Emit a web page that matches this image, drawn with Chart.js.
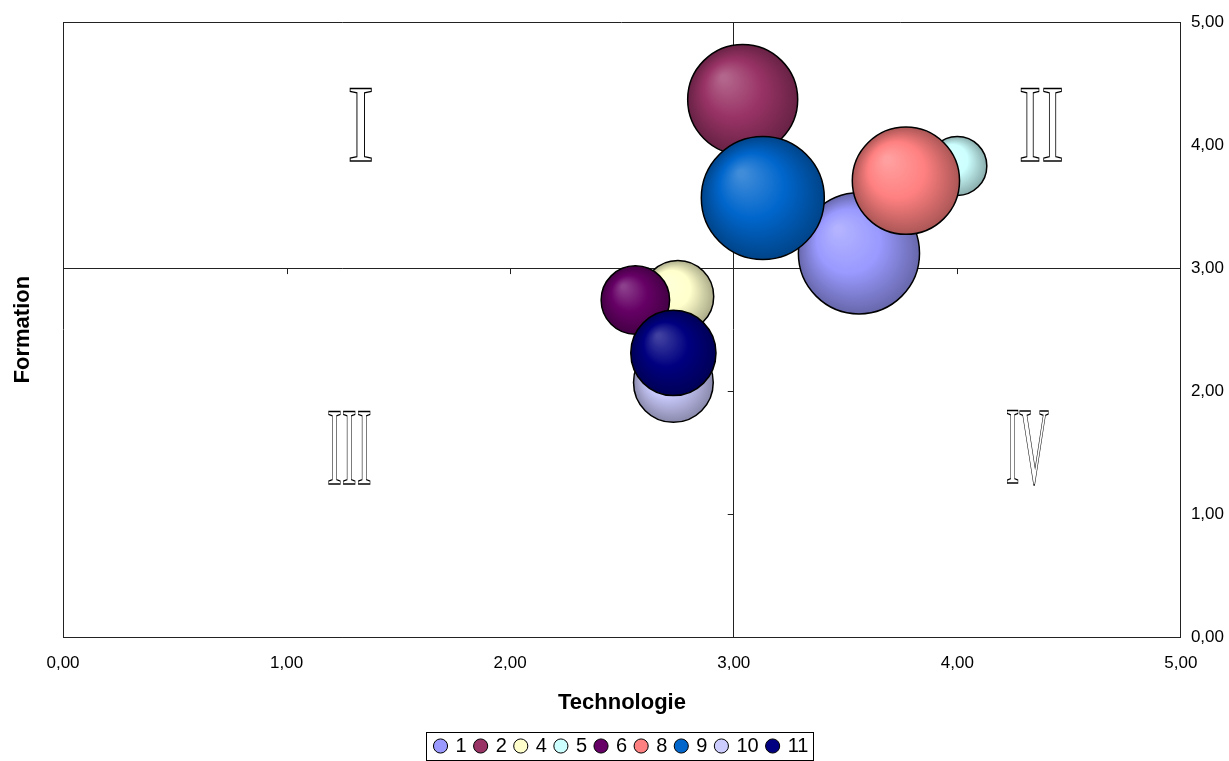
<!DOCTYPE html>
<html>
<head>
<meta charset="utf-8">
<title>Technologie / Formation</title>
<script src="https://cdn.jsdelivr.net/npm/chart.js@4.4.1/dist/chart.umd.min.js"></script>
<style>
    html, body { margin: 0; padding: 0; background: #fff; }
</style>
</head>
<body>
<canvas id="bubbleChart" width="1229" height="761"></canvas>
<script>
// données
const seriesNames = ['1', '2', '4', '5', '6', '8', '9', '10', '11'];
const technologie = [3.56, 3.04, 2.75, 4.00, 2.56, 3.77, 3.13, 2.73, 2.73];
const formation   = [3.12, 4.37, 2.77, 3.83, 2.74, 3.71, 3.57, 2.07, 2.31];
const taille      = [9.7, 8.0, 3.4, 2.3, 3.1, 7.6, 10, 4.2, 4.8];
const couleurs    = ['#9999FF', '#993366', '#FFFFCC', '#CCFFFF', '#660066', '#FF8080', '#0066CC', '#CCCCFF', '#000080'];
const axisTicks   = [0, 1, 2, 3, 4, 5];
const croisement  = 3;
const quadrants   = ['I', 'II', 'III', 'IV'];
const quadrantPos = [[1.33, 4.17], [4.375, 4.17], [1.28, 1.54], [4.315, 1.55]];
const quadrantLargeur = [22, 41, 42, 42];

const RAYON_MAX = 61.5;
const TAILLE_MAX = Math.max(...taille);

Chart.defaults.font.family = "'Liberation Sans', Arial, sans-serif";
Chart.defaults.color = '#000';

function hexToRgb(hex) {
    const n = parseInt(hex.slice(1), 16);
    return [(n >> 16) & 255, (n >> 8) & 255, n & 255];
}

function mix(a, b, t) {
    const ca = hexToRgb(a), cb = hexToRgb(b);
    const c = ca.map((v, i) => Math.round(v + (cb[i] - v) * t));
    return `rgb(${c[0]}, ${c[1]}, ${c[2]})`;
}

// effet de sphère comme dans Excel
function sphere(ctx, base) {
    if (ctx.type !== 'data' || !ctx.raw) return base;
    const xs = ctx.chart.scales.x, ys = ctx.chart.scales.y;
    if (!xs || !ys) return base;
    const cx = xs.getPixelForValue(ctx.raw.x);
    const cy = ys.getPixelForValue(ctx.raw.y);
    const r = ctx.raw.r;
    if (!isFinite(cx) || !isFinite(cy) || !isFinite(r)) return base;
    const g = ctx.chart.ctx.createRadialGradient(cx - r * 0.35, cy - r * 0.4, r * 0.05, cx, cy, r);
    g.addColorStop(0, mix(base, '#ffffff', 0.25));
    g.addColorStop(0.5, base);
    g.addColorStop(1, mix(base, '#000000', 0.33));
    return g;
}

const fmt = v => v.toFixed(2).replace('.', ',');

const datasets = seriesNames.map((name, i) => ({
    label: name,
    data: [{ x: technologie[i], y: formation[i], r: RAYON_MAX * Math.sqrt(taille[i] / TAILLE_MAX) }],
    backgroundColor: ctx => sphere(ctx, couleurs[i]),
    borderColor: '#000',
    borderWidth: 1.5,
    order: seriesNames.length - i
}));

const lineColor = '#222';

const repere = {
    id: 'repere',
    beforeDatasetsDraw(chart) {
        const ctx = chart.ctx;
        const xs = chart.scales.x, ys = chart.scales.y;
        const x0 = xs.getPixelForValue(croisement);
        const y0 = ys.getPixelForValue(croisement);
        ctx.save();
        ctx.strokeStyle = lineColor;
        ctx.lineWidth = 1;
        ctx.beginPath();
        axisTicks.slice(1, -1).forEach(v => {
            if (v === croisement) return;
            const px = Math.round(xs.getPixelForValue(v)) + 0.5;
            ctx.moveTo(px, y0);
            ctx.lineTo(px, y0 + 6);
            const py = Math.round(ys.getPixelForValue(v)) + 0.5;
            ctx.moveTo(x0, py);
            ctx.lineTo(x0 - 6, py);
        });
        ctx.stroke();

        // chiffres romains en contour
        ctx.font = "110px 'Liberation Serif', 'DejaVu Serif', serif";
        ctx.textBaseline = 'alphabetic';
        ctx.textAlign = 'left';
        ctx.lineWidth = 1.3;
        ctx.strokeStyle = '#000';
        ctx.fillStyle = '#fff';
        quadrants.forEach((txt, i) => {
            const m = ctx.measureText(txt);
            const ink = m.actualBoundingBoxLeft + m.actualBoundingBoxRight;
            const asc = m.actualBoundingBoxAscent;
            const sx = quadrantLargeur[i] / ink;
            const cx = xs.getPixelForValue(quadrantPos[i][0]);
            const cy = ys.getPixelForValue(quadrantPos[i][1]);
            ctx.save();
            ctx.translate(cx, cy + asc / 2);
            ctx.scale(sx, 1);
            const left = -ink / 2 + m.actualBoundingBoxLeft;
            ctx.fillText(txt, left, 0);
            ctx.strokeText(txt, left, 0);
            ctx.restore();
        });
        ctx.restore();
    },
    afterDraw(chart) {
        const ctx = chart.ctx;
        const area = chart.chartArea;
        ctx.save();
        // titre vertical
        ctx.font = "bold 22px 'Liberation Sans', Arial, sans-serif";
        ctx.fillStyle = '#000';
        ctx.textAlign = 'center';
        ctx.textBaseline = 'middle';
        ctx.translate(23, (area.top + area.bottom) / 2);
        ctx.rotate(-Math.PI / 2);
        ctx.fillText('Formation', 0, 0);
        ctx.restore();

        // cadre de la légende
        const boxes = chart.legend.legendHitBoxes;
        if (boxes && boxes.length) {
            const left = Math.min(...boxes.map(b => b.left)) - 10;
            const right = Math.max(...boxes.map(b => b.left + b.width)) + 4;
            const top = Math.min(...boxes.map(b => b.top)) - 4;
            const bottom = Math.max(...boxes.map(b => b.top + b.height)) + 4;
            ctx.save();
            ctx.strokeStyle = '#000';
            ctx.lineWidth = 1;
            ctx.strokeRect(Math.round(left) + 0.5, Math.round(top) + 0.5, Math.round(right - left), Math.round(bottom - top));
            ctx.restore();
        }
    }
};

const gridColor = (ctx) => {
    const v = ctx.tick ? ctx.tick.value : null;
    return (v === croisement || v === axisTicks[0] || v === axisTicks[axisTicks.length - 1]) ? lineColor : 'rgba(0,0,0,0)';
};

new Chart(document.getElementById('bubbleChart'), {
    type: 'bubble',
    data: { datasets: datasets },
    options: {
        responsive: false,
        animation: false,
        events: [],
        layout: { autoPadding: false, padding: { left: 63, top: 22, right: -5, bottom: -5 } },
        scales: {
            x: {
                type: 'linear',
                position: 'bottom',
                min: 0,
                max: 5,
                afterBuildTicks: s => { s.ticks = axisTicks.map(v => ({ value: v })); },
                ticks: { callback: fmt, font: { size: 17 }, color: '#000', padding: 16, maxRotation: 0 },
                grid: { color: gridColor, lineWidth: 1, drawTicks: false },
                border: { display: true, color: lineColor, width: 1 },
                title: {
                    display: true,
                    text: 'Technologie',
                    font: { size: 22, weight: 'bold' },
                    color: '#000',
                    padding: { top: 0, bottom: 11 }
                }
            },
            y: {
                type: 'linear',
                position: 'right',
                min: 0,
                max: 5,
                afterBuildTicks: s => { s.ticks = axisTicks.map(v => ({ value: v })); },
                ticks: { callback: fmt, font: { size: 17 }, color: '#000', padding: 10 },
                grid: { color: gridColor, lineWidth: 1, drawTicks: false },
                border: { display: true, color: lineColor, width: 1 }
            }
        },
        plugins: {
            tooltip: { enabled: false },
            legend: {
                position: 'bottom',
                fullSize: false,
                labels: {
                    usePointStyle: true,
                    pointStyle: 'circle',
                    boxWidth: 10,
                    boxHeight: 10,
                    padding: 9,
                    font: { size: 20 },
                    color: '#000',
                    generateLabels: chart => chart.data.datasets.map((ds, i) => ({
                        text: ds.label,
                        fillStyle: couleurs[i],
                        strokeStyle: '#000',
                        lineWidth: 1,
                        pointStyle: 'circle',
                        hidden: false,
                        datasetIndex: i
                    }))
                }
            }
        }
    },
    plugins: [repere]
});
</script>
</body>
</html>
